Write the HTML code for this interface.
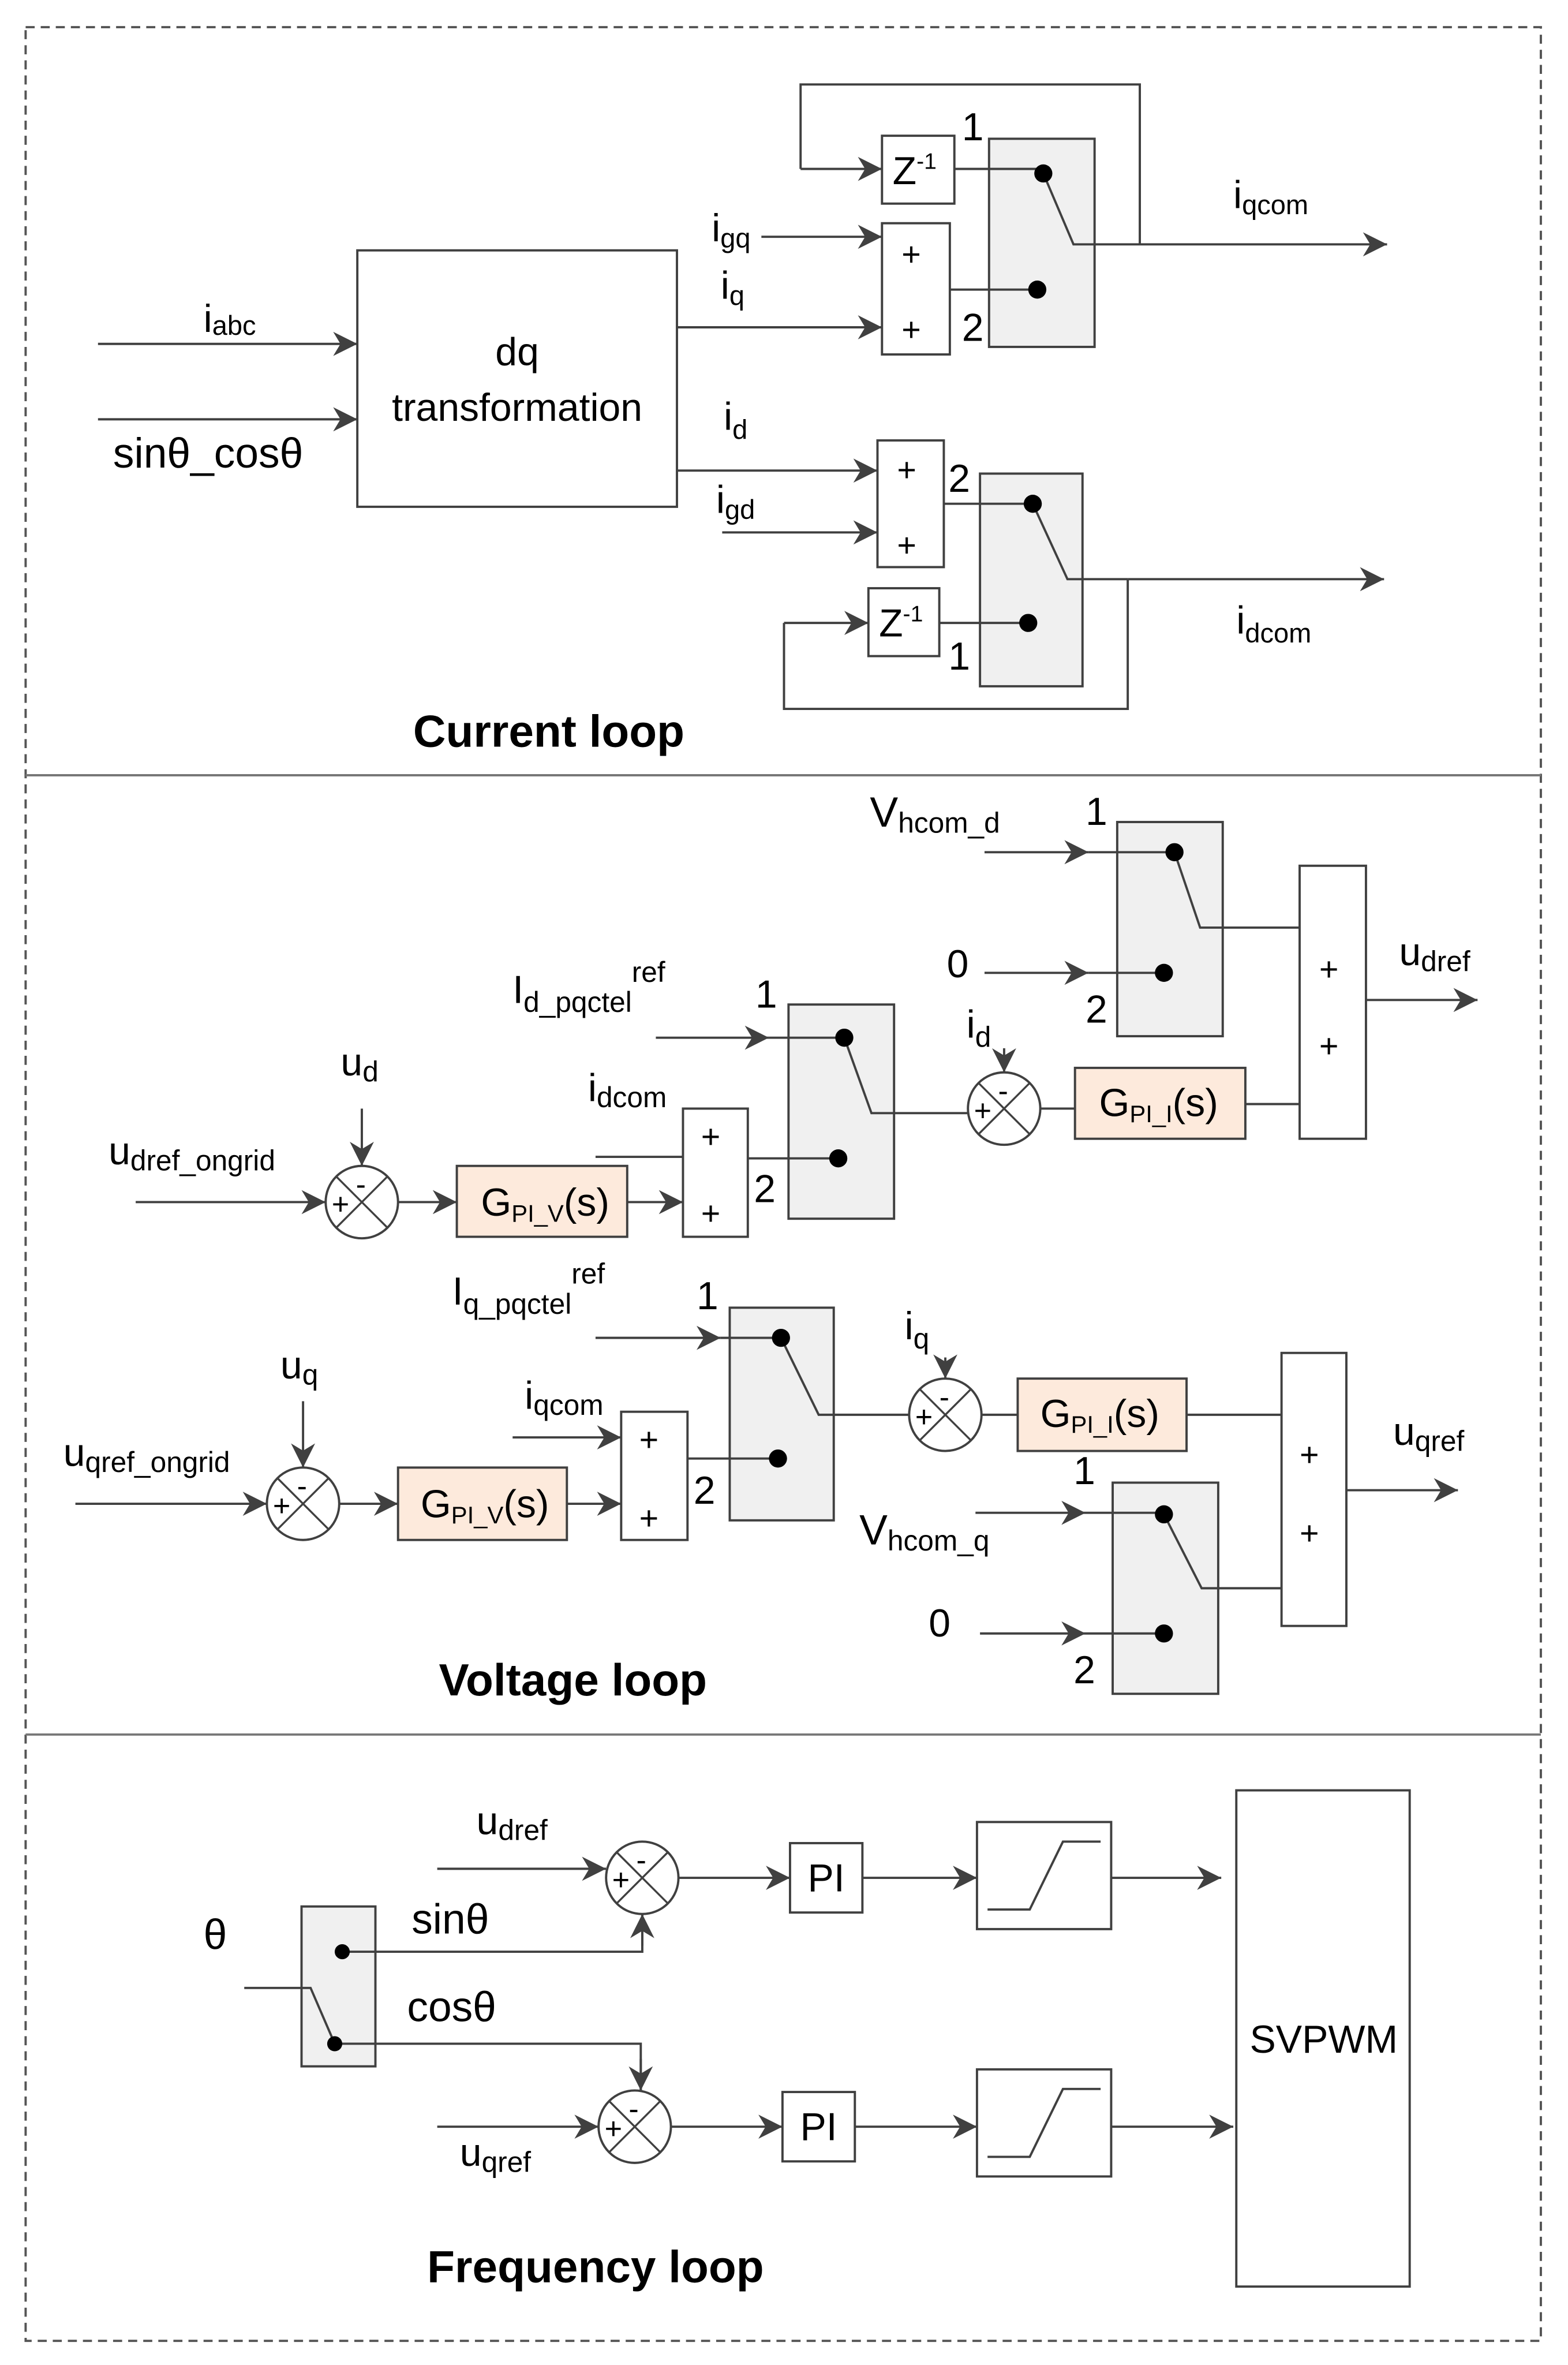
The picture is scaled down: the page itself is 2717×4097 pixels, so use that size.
<!DOCTYPE html>
<html><head><meta charset="utf-8"><style>
html,body{margin:0;padding:0;background:#fff}
svg{display:block}
text{font-family:"Liberation Sans",sans-serif;fill:#000}
</style></head><body>
<svg width="2717" height="4097" viewBox="0 0 1040 1568" preserveAspectRatio="none" xmlns="http://www.w3.org/2000/svg">
<defs>
<marker id="a" viewBox="0 0 10 10" refX="10" refY="5" markerWidth="16" markerHeight="16" markerUnits="userSpaceOnUse" orient="auto"><path d="M0,0 L10,5 L0,10 L3,5 z" fill="#404040"/></marker>
<g id="sc"><circle r="24" fill="#fff" stroke="#404040" stroke-width="1.5"/><line x1="-17" y1="-17" x2="17" y2="17" stroke="#404040" stroke-width="1.3"/><line x1="17" y1="-17" x2="-17" y2="17" stroke="#404040" stroke-width="1.3"/><text x="-20" y="8" font-size="20">+</text><text x="-4" y="-5" font-size="20">-</text></g>
</defs>
<g stroke="#404040" stroke-width="1.5" fill="none">
<rect x="17" y="18" width="1005" height="1534" stroke-dasharray="6,4" stroke="#555"/>
<line x1="17" y1="514" x2="1022" y2="514" stroke="#777"/>
<line x1="17" y1="1150" x2="1022" y2="1150" stroke="#777"/>
</g>
<g stroke="#404040" stroke-width="1.5" fill="none">
<!-- current loop -->
<rect x="237" y="166" width="212" height="170"/>
<line x1="65" y1="228" x2="237" y2="228" marker-end="url(#a)"/>
<line x1="65" y1="278" x2="237" y2="278" marker-end="url(#a)"/>
<line x1="449" y1="217" x2="585" y2="217" marker-end="url(#a)"/>
<line x1="505" y1="157" x2="585" y2="157" marker-end="url(#a)"/>
<rect x="585" y="148" width="45" height="87"/>
<rect x="585" y="90" width="48" height="45"/>
<rect x="656" y="92" width="70" height="138" fill="#f0f0f0"/>
<line x1="633" y1="112" x2="692" y2="112"/>
<line x1="630" y1="192" x2="688" y2="192"/>
<polyline points="692,115 712,162 756,162"/>
<line x1="756" y1="162" x2="920" y2="162" marker-end="url(#a)"/>
<polyline points="756,162 756,56 531,56 531,112"/>
<line x1="531" y1="112" x2="585" y2="112" marker-end="url(#a)"/>
<line x1="449" y1="312" x2="582" y2="312" marker-end="url(#a)"/>
<line x1="479" y1="353" x2="582" y2="353" marker-end="url(#a)"/>
<rect x="582" y="292" width="44" height="84"/>
<rect x="650" y="314" width="68" height="141" fill="#f0f0f0"/>
<rect x="576" y="390" width="47" height="45"/>
<line x1="626" y1="334" x2="685" y2="334"/>
<line x1="623" y1="413" x2="682" y2="413"/>
<polyline points="685,334 708,384 748,384"/>
<line x1="748" y1="384" x2="918" y2="384" marker-end="url(#a)"/>
<polyline points="748,384 748,470 520,470 520,413"/>
<line x1="520" y1="413" x2="576" y2="413" marker-end="url(#a)"/>
<!-- voltage d -->
<rect x="741" y="545" width="70" height="142" fill="#f0f0f0"/>
<line x1="653" y1="565" x2="722" y2="565" marker-end="url(#a)"/>
<line x1="722" y1="565" x2="779" y2="565"/>
<line x1="653" y1="645" x2="722" y2="645" marker-end="url(#a)"/>
<line x1="722" y1="645" x2="772" y2="645"/>
<polyline points="779,565 796,615 862,615"/>
<rect x="862" y="574" width="44" height="181"/>
<line x1="906" y1="663" x2="980" y2="663" marker-end="url(#a)"/>
<rect x="713" y="708" width="113" height="47" fill="#fdeadc"/>
<line x1="826" y1="732" x2="862" y2="732"/>
<line x1="666" y1="695" x2="666" y2="711" marker-end="url(#a)"/>
<line x1="690" y1="735" x2="713" y2="735"/>
<rect x="523" y="666" width="70" height="142" fill="#f0f0f0"/>
<polyline points="560,688 578,738 642,738"/>
<line x1="435" y1="688" x2="510" y2="688" marker-end="url(#a)"/>
<line x1="510" y1="688" x2="560" y2="688"/>
<rect x="453" y="735" width="43" height="85"/>
<line x1="395" y1="767" x2="453" y2="767"/>
<line x1="496" y1="768" x2="556" y2="768"/>
<rect x="303" y="773" width="113" height="47" fill="#fdeadc"/>
<line x1="416" y1="797" x2="453" y2="797" marker-end="url(#a)"/>
<line x1="240" y1="735" x2="240" y2="773" marker-end="url(#a)"/>
<line x1="90" y1="797" x2="216" y2="797" marker-end="url(#a)"/>
<line x1="264" y1="797" x2="303" y2="797" marker-end="url(#a)"/>
<!-- voltage q -->
<line x1="395" y1="887" x2="478" y2="887" marker-end="url(#a)"/>
<rect x="484" y="867" width="69" height="141" fill="#f0f0f0"/>
<line x1="478" y1="887" x2="518" y2="887"/>
<polyline points="518,887 543,938 603,938"/>
<line x1="627" y1="900" x2="627" y2="914" marker-end="url(#a)"/>
<rect x="675" y="914" width="112" height="48" fill="#fdeadc"/>
<line x1="651" y1="938" x2="675" y2="938"/>
<line x1="787" y1="938" x2="850" y2="938"/>
<rect x="850" y="897" width="43" height="181"/>
<line x1="893" y1="988" x2="967" y2="988" marker-end="url(#a)"/>
<rect x="738" y="983" width="70" height="140" fill="#f0f0f0"/>
<line x1="647" y1="1003" x2="720" y2="1003" marker-end="url(#a)"/>
<line x1="720" y1="1003" x2="772" y2="1003"/>
<line x1="650" y1="1083" x2="720" y2="1083" marker-end="url(#a)"/>
<line x1="720" y1="1083" x2="772" y2="1083"/>
<polyline points="772,1004 797,1053 850,1053"/>
<rect x="412" y="936" width="44" height="85"/>
<line x1="340" y1="953" x2="412" y2="953" marker-end="url(#a)"/>
<line x1="456" y1="967" x2="516" y2="967"/>
<rect x="264" y="973" width="112" height="48" fill="#fdeadc"/>
<line x1="376" y1="997" x2="412" y2="997" marker-end="url(#a)"/>
<line x1="201" y1="929" x2="201" y2="973" marker-end="url(#a)"/>
<line x1="50" y1="997" x2="177" y2="997" marker-end="url(#a)"/>
<line x1="225" y1="997" x2="264" y2="997" marker-end="url(#a)"/>
<!-- frequency -->
<rect x="200" y="1264" width="49" height="106" fill="#f0f0f0"/>
<polyline points="162,1318 206,1318 222,1355"/>
<polyline points="227,1294 426,1294 426,1269"/>
<line x1="426" y1="1290" x2="426" y2="1269" marker-end="url(#a)"/>
<polyline points="222,1355 425,1355 425,1386"/>
<line x1="425" y1="1365" x2="425" y2="1386" marker-end="url(#a)"/>
<line x1="290" y1="1239" x2="402" y2="1239" marker-end="url(#a)"/>
<line x1="450" y1="1245" x2="524" y2="1245" marker-end="url(#a)"/>
<rect x="524" y="1222" width="48" height="46"/>
<line x1="572" y1="1245" x2="648" y2="1245" marker-end="url(#a)"/>
<rect x="648" y="1208" width="89" height="71"/>
<polyline points="655,1266 683,1266 705,1221 730,1221"/>
<line x1="737" y1="1245" x2="810" y2="1245" marker-end="url(#a)"/>
<rect x="820" y="1187" width="115" height="329"/>
<line x1="290" y1="1410" x2="397" y2="1410" marker-end="url(#a)"/>
<line x1="445" y1="1410" x2="519" y2="1410" marker-end="url(#a)"/>
<rect x="519" y="1387" width="48" height="46"/>
<line x1="567" y1="1410" x2="648" y2="1410" marker-end="url(#a)"/>
<rect x="648" y="1372" width="89" height="71"/>
<polyline points="655,1430 683,1430 705,1385 730,1385"/>
<line x1="737" y1="1410" x2="818" y2="1410" marker-end="url(#a)"/>
</g>
<!-- sum circles -->
<use href="#sc" x="666" y="735"/>
<use href="#sc" x="240" y="797"/>
<use href="#sc" x="627" y="938"/>
<use href="#sc" x="201" y="997"/>
<use href="#sc" x="426" y="1245"/>
<use href="#sc" x="421" y="1410"/>
<!-- dots -->
<g fill="#000">
<circle cx="692" cy="115" r="6"/><circle cx="688" cy="192" r="6"/>
<circle cx="685" cy="334" r="6"/><circle cx="682" cy="413" r="6"/>
<circle cx="779" cy="565" r="6"/><circle cx="772" cy="645" r="6"/>
<circle cx="560" cy="688" r="6"/><circle cx="556" cy="768" r="6"/>
<circle cx="518" cy="887" r="6"/><circle cx="516" cy="967" r="6"/>
<circle cx="772" cy="1004" r="6"/><circle cx="772" cy="1083" r="6"/>
<circle cx="227" cy="1294" r="5"/><circle cx="222" cy="1355" r="5"/>
</g>
<!-- text -->
<g font-size="26">
<text x="343" y="242" text-anchor="middle">dq</text>
<text x="343" y="279" text-anchor="middle">transformation</text>
<text x="135" y="220">i<tspan font-size="18" dy="2">abc</tspan></text>
<text x="75" y="310" font-size="28">sinθ_cosθ</text>
<text x="472" y="160">i<tspan font-size="18" dy="4">gq</tspan></text>
<text x="478" y="198">i<tspan font-size="18" dy="4">q</tspan></text>
<text x="480" y="285">i<tspan font-size="18" dy="6">d</tspan></text>
<text x="475" y="340">i<tspan font-size="18" dy="4">gd</tspan></text>
<text x="818" y="138">i<tspan font-size="18" dy="4">qcom</tspan></text>
<text x="820" y="420">i<tspan font-size="18" dy="6">dcom</tspan></text>
<text x="638" y="93">1</text><text x="638" y="226">2</text>
<text x="629" y="326">2</text><text x="629" y="444">1</text>
<text x="598" y="176" font-size="22">+</text><text x="598" y="226" font-size="22">+</text>
<text x="595" y="319" font-size="22">+</text><text x="595" y="369" font-size="22">+</text>
<text x="592" y="122">Z<tspan font-size="15" dy="-10">-1</tspan></text>
<text x="583" y="422">Z<tspan font-size="15" dy="-10">-1</tspan></text>
<text x="364" y="495" font-size="30" font-weight="bold" text-anchor="middle">Current loop</text>

<text x="577" y="548" font-size="28">V<tspan font-size="19" dy="4">hcom_d</tspan></text>
<text x="720" y="547">1</text><text x="720" y="678">2</text>
<text x="628" y="648">0</text>
<text x="875" y="650" font-size="22">+</text><text x="875" y="701" font-size="22">+</text>
<text x="928" y="640">u<tspan font-size="19" dy="4">dref</tspan></text>
<text x="641" y="688">i<tspan font-size="19" dy="6">d</tspan></text>
<text x="729" y="740">G<tspan font-size="16" dy="4">PI_I</tspan><tspan dy="-4">(s)</tspan></text>
<text x="340" y="665">I<tspan font-size="19" dy="6">d_pqctel</tspan><tspan font-size="19" dy="-20">ref</tspan></text>
<text x="501" y="668">1</text><text x="500" y="797">2</text>
<text x="465" y="761" font-size="22">+</text><text x="465" y="812" font-size="22">+</text>
<text x="390" y="730">i<tspan font-size="19" dy="4">dcom</tspan></text>
<text x="319" y="806">G<tspan font-size="16" dy="4">PI_V</tspan><tspan dy="-4">(s)</tspan></text>
<text x="226" y="713">u<tspan font-size="19" dy="4">d</tspan></text>
<text x="72" y="772">u<tspan font-size="19" dy="4">dref_ongrid</tspan></text>

<text x="300" y="865">I<tspan font-size="19" dy="6">q_pqctel</tspan><tspan font-size="19" dy="-20">ref</tspan></text>
<text x="462" y="868">1</text><text x="460" y="997">2</text>
<text x="600" y="888">i<tspan font-size="19" dy="6">q</tspan></text>
<text x="690" y="946">G<tspan font-size="16" dy="4">PI_I</tspan><tspan dy="-4">(s)</tspan></text>
<text x="862" y="972" font-size="22">+</text><text x="862" y="1024" font-size="22">+</text>
<text x="924" y="958">u<tspan font-size="19" dy="4">qref</tspan></text>
<text x="712" y="984">1</text><text x="712" y="1116">2</text>
<text x="570" y="1024" font-size="28">V<tspan font-size="19" dy="4">hcom_q</tspan></text>
<text x="616" y="1085">0</text>
<text x="424" y="962" font-size="22">+</text><text x="424" y="1014" font-size="22">+</text>
<text x="348" y="934">i<tspan font-size="19" dy="4">qcom</tspan></text>
<text x="279" y="1006">G<tspan font-size="16" dy="4">PI_V</tspan><tspan dy="-4">(s)</tspan></text>
<text x="186" y="914">u<tspan font-size="19" dy="4">q</tspan></text>
<text x="42" y="972">u<tspan font-size="19" dy="4">qref_ongrid</tspan></text>
<text x="380" y="1124" font-size="30" font-weight="bold" text-anchor="middle">Voltage loop</text>

<text x="135" y="1292" font-size="28">θ</text>
<text x="273" y="1282" font-size="28">sinθ</text>
<text x="270" y="1340" font-size="28">cosθ</text>
<text x="316" y="1216">u<tspan font-size="19" dy="4">dref</tspan></text>
<text x="305" y="1436">u<tspan font-size="19" dy="4">qref</tspan></text>
<text x="548" y="1254" text-anchor="middle">PI</text>
<text x="543" y="1419" text-anchor="middle">PI</text>
<text x="878" y="1361" text-anchor="middle">SVPWM</text>
<text x="395" y="1513" font-size="30" font-weight="bold" text-anchor="middle">Frequency loop</text>
</g>
</svg>
</body></html>
